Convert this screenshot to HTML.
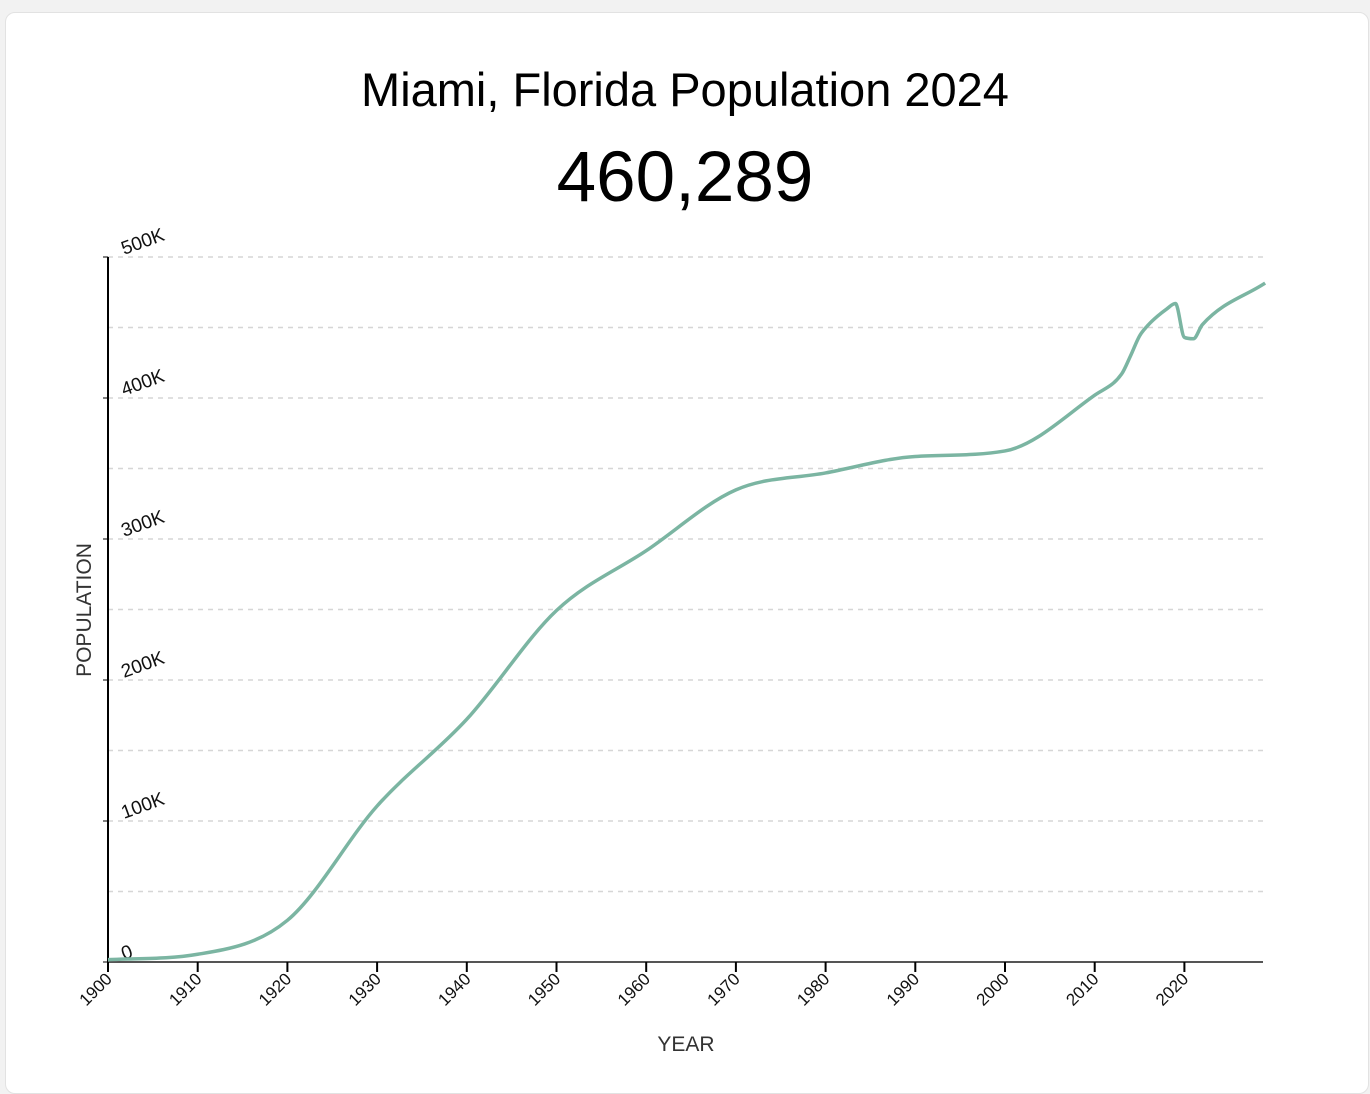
<!DOCTYPE html>
<html><head><meta charset="utf-8"><style>
html,body{margin:0;padding:0;background:#f2f2f2;width:1370px;height:1074px;overflow:hidden;font-family:"Liberation Sans",Arial,sans-serif}
.card{position:absolute;left:5px;top:12px;width:1362px;height:1080px;background:#fff;border-radius:10px;border:1px solid #e2e2e2}
</style></head><body>
<div class="card"></div>
<svg id="c" width="1370" height="1074" style="position:absolute;left:0;top:0">
<text x="685" y="106" text-anchor="middle" font-size="47" fill="#000">Miami, Florida Population 2024</text>
<text x="685" y="201" text-anchor="middle" font-size="71" fill="#000">460,289</text>
<text transform="translate(91,610) rotate(-90)" text-anchor="middle" font-size="21" fill="#333">POPULATION</text>
<text x="686" y="1051" text-anchor="middle" font-size="21" fill="#333">YEAR</text>
<g id="g"></g>
</svg>
<script>
const years=[1900,1910,1920,1930,1940,1950,1960,1970,1980,1990,2000,2010,2013,2014,2015,2016,2017,2018,2019,2020,2021,2022,2029];
const pops=[1681,5471,29571,110637,172172,249276,291688,334859,346865,358548,362470,402000,417000,430000,444000,452000,458000,463000,467000,443000,442000,452000,481500];
const yTicks=[0,100000,200000,300000,400000,500000];
const yTickLabels=["0","100K","200K","300K","400K","500K"];
const xTicks=[1900,1910,1920,1930,1940,1950,1960,1970,1980,1990,2000,2010,2020];
const NS="http://www.w3.org/2000/svg",g=document.getElementById('g');
const X=y=>108+(y-1900)*8.97, Y=v=>962-v*0.00141;
function mk(t,a){const e=document.createElementNS(NS,t);for(const k in a)e.setAttribute(k,a[k]);g.appendChild(e);return e;}
for(let v=50000;v<=500000;v+=50000){const l=mk('line',{x1:108,x2:1263,y1:Y(v),y2:Y(v),stroke:'#d6d6d6','stroke-width':1.5,'stroke-dasharray':'5,5'});

}
yTicks.forEach((v,i)=>{const t=mk('text',{transform:`translate(124,${Y(v)-2}) rotate(-20)`,'font-size':19,fill:'#111'});t.textContent=yTickLabels[i];


mk('line',{x1:103,x2:108,y1:Y(v),y2:Y(v),stroke:'#000'});});
const ya=mk('line',{x1:108,x2:108,y1:257,y2:962,stroke:'#000','stroke-width':2});


const xa=mk('line',{x1:108,x2:1263,y1:962,y2:962,stroke:'#555','stroke-width':2});


xTicks.forEach(y=>{mk('line',{x1:X(y),x2:X(y),y1:962,y2:972,stroke:'#000','stroke-width':2});
const t=mk('text',{transform:`translate(${X(y)+5},${980}) rotate(-45)`,'text-anchor':'end','font-size':17,fill:'#111'});t.textContent=y;

});
const px=years.map(X),py=pops.map(Y),n=px.length,d=[],m=[];
for(let i=0;i<n-1;i++)d.push((py[i+1]-py[i])/(px[i+1]-px[i]));
for(let i=0;i<n;i++){if(i==0)m.push(d[0]);else if(i==n-1)m.push(d[n-2]);else m.push(d[i-1]*d[i]<=0?0:(d[i-1]+d[i])/2);}
for(let i=0;i<n-1;i++){if(d[i]==0){m[i]=m[i+1]=0;continue;}const a=m[i]/d[i],b=m[i+1]/d[i],s=a*a+b*b;if(s>9){const t=3/Math.sqrt(s);m[i]=t*a*d[i];m[i+1]=t*b*d[i];}}
let p=`M${px[0]},${py[0]}`;
for(let i=0;i<n-1;i++){const h=(px[i+1]-px[i])/3;p+=`C${px[i]+h},${py[i]+m[i]*h} ${px[i+1]-h},${py[i+1]-m[i+1]*h} ${px[i+1]},${py[i+1]}`;}
const line=mk('path',{d:p,fill:'none',stroke:'#7bb5a2','stroke-width':3.5,'stroke-linejoin':'round'});


</script>
</body></html>
